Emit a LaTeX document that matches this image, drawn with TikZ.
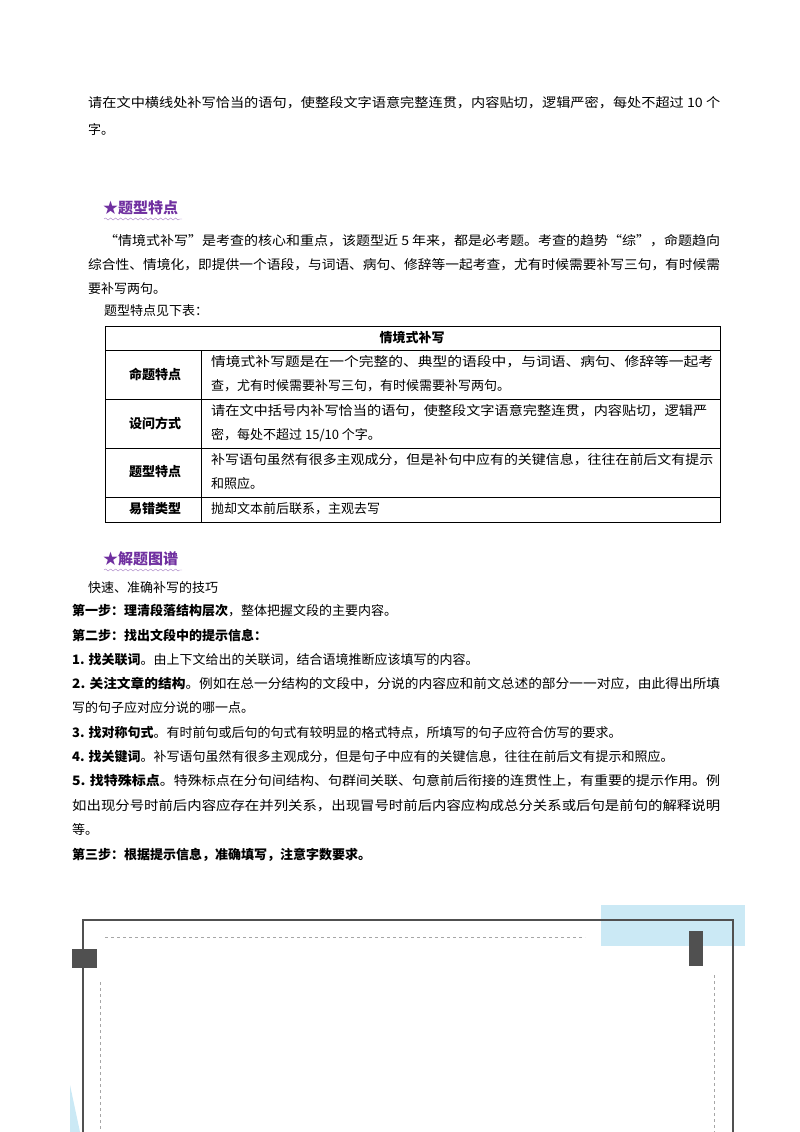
\documentclass[tikz,border=0pt]{standalone}
\usepackage{graphicx}
\usepackage{fontspec}
\setmainfont{Noto Sans CJK SC}
\usetikzlibrary{decorations.pathmorphing}
\definecolor{purp}{HTML}{7030A0}
\definecolor{lblue}{HTML}{CBE9F5}
\definecolor{dgray}{HTML}{505050}
\newcommand{\fl}[2]{\resizebox{#1pt}{\height}{#2}}
\tikzset{
 t/.style={anchor=west,inner sep=0pt,font=\fontsize{13}{15}\selectfont},
 hd/.style={anchor=west,inner sep=0pt,text=purp,font=\fontsize{15}{17}\bfseries\selectfont},
 lab/.style={inner sep=0pt,font=\fontsize{13}{15}\bfseries\selectfont},
 cell/.style={draw=black,line width=0.8pt},
}
\begin{document}
\begin{tikzpicture}[x=1pt,y=-1pt]
\useasboundingbox (0,0) rectangle (800,1132);
\node[t] (a1) at (88,103) {\fl{632}{请在文中横线处补写恰当的语句，使整段文字语意完整连贯，内容贴切，逻辑严密，每处不超过 10 个}};
\node[t] (a2) at (88,130) {字。};
\node[hd] (h1) at (103,208) {★题型特点};
\draw[purp!60,decorate,decoration={snake,amplitude=1pt,segment length=5pt}] (104,219) -- (182,219);
\node[t] (p1) at (104,241) {\fl{616}{“情境式补写”是考查的核心和重点，该题型近 5 年来，都是必考题。考查的趋势“综”，命题趋向}};
\node[t] (p2) at (88,265) {\fl{632}{综合性、情境化，即提供一个语段，与词语、病句、修辞等一起考查，尤有时候需要补写三句，有时候需}};
\node[t] (p3) at (88,289) {要补写两句。};
\node[t] (p4) at (104,311) {题型特点见下表：};
% table
\draw[cell] (105,326) rectangle (720,522);
\foreach \y in {350,399,448,497} \draw[cell] (105,\y) -- (720,\y);
\draw[cell] (201,350) -- (201,522);
\node[lab] (th) at (412,338) {情境式补写};
\node[lab] (l1) at (155,374) {命题特点};
\node[lab] (l2) at (155,423) {设问方式};
\node[lab] (l3) at (155,472) {题型特点};
\node[lab] (l4) at (155,509) {易错类型};
\node[t] (c1a) at (211,362) {\fl{502}{情境式补写题是在一个完整的、典型的语段中，与词语、病句、修辞等一起考}};
\node[t] (c1b) at (211,386) {查，尤有时候需要补写三句，有时候需要补写两句。};
\node[t] (c2a) at (211,411) {\fl{496}{请在文中括号内补写恰当的语句，使整段文字语意完整连贯，内容贴切，逻辑严}};
\node[t] (c2b) at (211,435) {密，每处不超过 15/10 个字。};
\node[t] (c3a) at (211,460) {\fl{502}{补写语句虽然有很多主观成分，但是补句中应有的关键信息，往往在前后文有提示}};
\node[t] (c3b) at (211,484) {和照应。};
\node[t] (c4) at (211,509) {抛却文本前后联系，主观去写};
\node[hd] (h2) at (103,559) {★解题图谱};
\draw[purp!60,decorate,decoration={snake,amplitude=1pt,segment length=5pt}] (104,570) -- (182,570);
\node[t] (q0) at (88,588) {快速、准确补写的技巧};
\node[t] (q1) at (72,611) {\textbf{第一步：理清段落结构层次}，整体把握文段的主要内容。};
\node[t] (q2) at (72,635) {\textbf{第二步：找出文段中的提示信息：}};
\node[t] (q3) at (72,660) {\textbf{1. 找关联词}。由上下文给出的关联词，结合语境推断应该填写的内容。};
\node[t] (q4) at (72,684) {\fl{648}{\textbf{2. 关注文章的结构}。例如在总一分结构的文段中，分说的内容应和前文总述的部分一一对应，由此得出所填}};
\node[t] (q5) at (72,708) {写的句子应对应分说的哪一点。};
\node[t] (q6) at (72,733) {\textbf{3. 找对称句式}。有时前句或后句的句式有较明显的格式特点，所填写的句子应符合仿写的要求。};
\node[t] (q7) at (72,757) {\textbf{4. 找关键词}。补写语句虽然有很多主观成分，但是句子中应有的关键信息，往往在前后文有提示和照应。};
\node[t] (q8) at (72,781) {\fl{648}{\textbf{5. 找特殊标点}。特殊标点在分句间结构、句群间关联、句意前后衔接的连贯性上，有重要的提示作用。例}};
\node[t] (q9) at (72,806) {\fl{648}{如出现分号时前后内容应存在并列关系，出现冒号时前后内容应构成总分关系或后句是前句的解释说明}};
\node[t] (q10) at (72,830) {等。};
\node[t] (q11) at (72,855) {\textbf{第三步：根据提示信息，准确填写，注意字数要求。}};
% bottom frame
\fill[lblue] (601,905) rectangle (745,946);
\fill[lblue] (70,1085) -- (80,1132) -- (70,1132) -- cycle;
\draw[dgray,line width=1.6pt] (83,1132) -- (83,920) -- (733,920) -- (733,1132);
\fill[dgray] (72,949) rectangle (97,968);
\fill[dgray] (689,931) rectangle (703,966);
\draw[gray!70,dashed,line width=0.7pt] (105,937) -- (585,937);
\draw[gray!70,dashed,line width=0.7pt] (100,982) -- (100,1132);
\draw[gray!70,dashed,line width=0.7pt] (714,975) -- (714,1132);
\end{tikzpicture}
\end{document}
